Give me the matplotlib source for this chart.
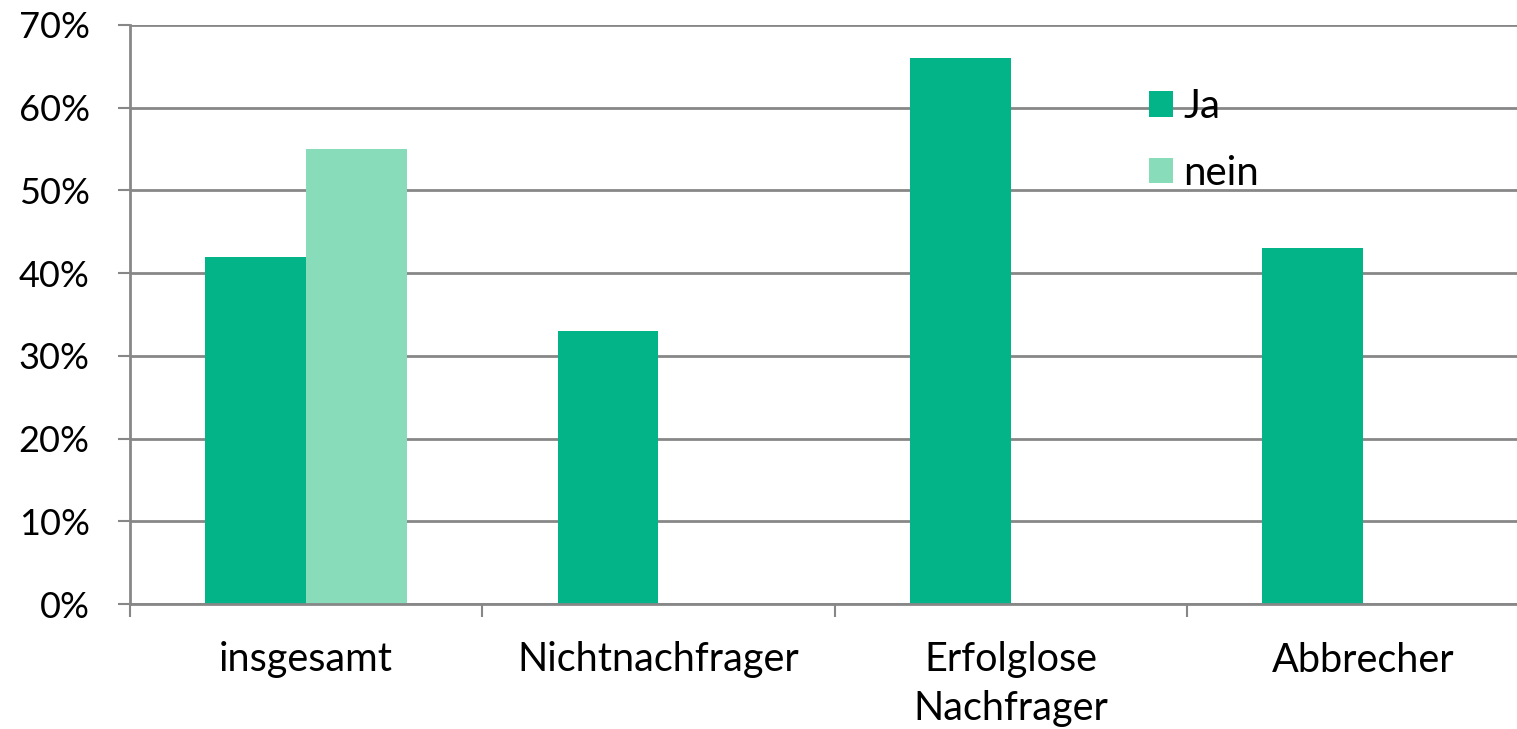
import matplotlib
matplotlib.use("Agg")
import matplotlib.pyplot as plt
from matplotlib.patches import Patch
from matplotlib.ticker import FixedLocator, PercentFormatter

categories = ["insgesamt", "Nichtnachfrager", "Erfolglose\nNachfrager", "Abbrecher"]
series_names = ["Ja", "nein"]
ja_values = [42, 33, 66, 43]
nein_values = [55, 0, 0, 0]
y_ticks = [0, 10, 20, 30, 40, 50, 60, 70]

ja_color = "#02B488"
nein_color = "#88DCB9"
grid_color = "#878787"

plt.rcParams["font.family"] = ["Lato", "DejaVu Sans"]

fig = plt.figure(figsize=(15.17, 7.29), dpi=100)
ax = fig.add_axes([130 / 1517, 125 / 729, 1409 / 1517, 579 / 729])

width = 0.2857
x = list(range(len(categories)))
ax.bar([i - width / 2 for i in x], ja_values, width, color=ja_color, linewidth=0, zorder=3)
ax.bar([i + width / 2 for i in x], nein_values, width, color=nein_color, linewidth=0, zorder=3)

ax.set_xlim(-0.5, len(categories) - 0.5)
ax.set_ylim(0, 70)

ax.set_yticks(y_ticks)
ax.yaxis.set_major_formatter(PercentFormatter(decimals=0))
ax.grid(axis="y", color=grid_color, linewidth=2, zorder=0)
ax.tick_params(axis="y", length=9, width=1.5, color=grid_color, pad=20, labelsize=26)

ax.set_xticks(x)
ax.set_xticklabels(categories, fontsize=28.5, linespacing=1.37)
ax.xaxis.set_minor_locator(FixedLocator([i - 0.5 for i in range(len(categories) + 1)]))
ax.tick_params(axis="x", which="major", length=0, pad=27)
ax.tick_params(axis="x", which="minor", length=9.5, width=1.5, color=grid_color)

for side in ("top", "right"):
    ax.spines[side].set_visible(False)
for side in ("left", "bottom"):
    ax.spines[side].set_color(grid_color)
    ax.spines[side].set_linewidth(2)
    ax.spines[side].set_zorder(4)

handles = [Patch(facecolor=ja_color, linewidth=0), Patch(facecolor=nein_color, linewidth=0)]
fig.legend(handles, series_names, loc="upper left", bbox_to_anchor=(1149 / 1517, 1 - 88 / 729),
           frameon=False, fontsize=29, handlelength=0.6, handleheight=0.6,
           handletextpad=0.25, labelspacing=0.74, borderaxespad=0, borderpad=0)

fig.savefig("out.png", dpi=100)
